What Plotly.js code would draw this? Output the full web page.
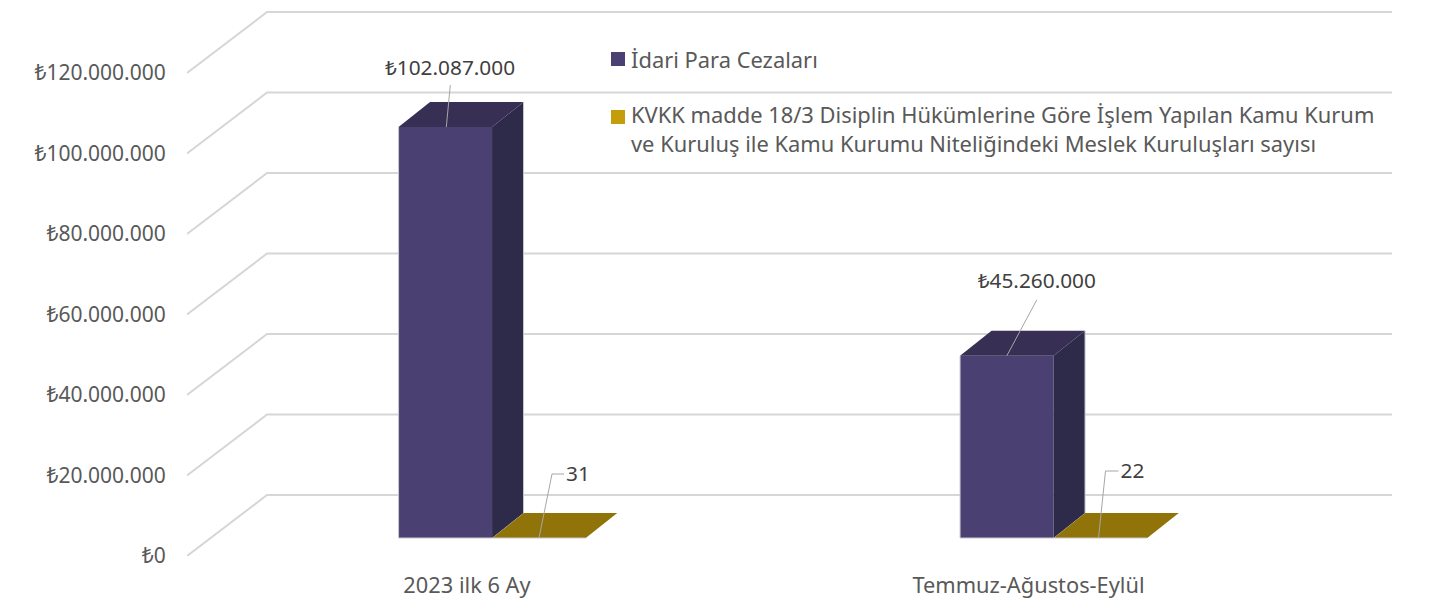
<!DOCTYPE html>
<html><head><meta charset="utf-8">
<script src="https://cdn.plot.ly/plotly-3.0.1.min.js"></script>
<style>html,body{margin:0;padding:0;background:#fff}</style>
</head><body><div id="chart" style="width:1455px;height:600px"></div>
<script>
const categories = ['2023 ilk 6 Ay', 'Temmuz-Ağustos-Eylül'];
const seriesNames = ['İdari Para Cezaları', 'KVKK madde 18/3 Disiplin Hükümlerine Göre İşlem Yapılan Kamu Kurum<br>ve Kuruluş ile Kamu Kurumu Niteliğindeki Meslek Kuruluşları sayısı'];
const fines = [102087000, 45260000];
const counts = [31, 22];
const yTicks = [0, 20000000, 40000000, 60000000, 80000000, 100000000, 120000000];

const lira = v => '₺' + String(v).replace(/\B(?=(\d{3})+$)/g, '.');
const FONT = '"Noto Sans", sans-serif';
// geometry helpers: pixels per axis unit, used only for the oblique 3D projection
const PXX = 561.5, PXY = 80.5 / 20000000, X0 = 467, Y0 = 556, W = 1455, H = 600;
const ux = p => p / PXX;                     // px width -> x units
const uy = p => p / PXY;                     // px height -> value units
const floorV = uy(18);                       // floor of the bars above the front edge
const wall = {dx: ux(80), dv: uy(61)};
const depth = {dx: ux(31.5), dv: uy(25)};
const BW = ux(93.5);
const off1 = ux(445.3 - X0), off2 = ux(539 - X0);
const right = ux(1392 - X0);
const left = ux(187 - X0);

const traces = [];
const poly = (xs, ys, color) => traces.push({type:'scatter', mode:'lines', x:xs, y:ys, fill:'toself', fillcolor:color,
  line:{width:0, color:color}, showlegend:false, hoverinfo:'skip'});
const line = (xs, ys, color, width) => traces.push({type:'scatter', mode:'lines', x:xs, y:ys, line:{color, width},
  showlegend:false, hoverinfo:'skip'});
const label = (x, y, t) => traces.push({type:'scatter', mode:'text', x:[x], y:[y], text:[t], textposition:'middle center',
  textfont:{family:FONT, size:20.8, color:'#404040'}, showlegend:false, hoverinfo:'skip', cliponaxis:false});

// wall gridlines go below the traces
const shapes = yTicks.map(v => ({type:'path', layer:'below', xref:'x', yref:'y',
  path:`M${left},${v}L${left + wall.dx},${v + wall.dv}L${right},${v + wall.dv}`, line:{color:'#d6d6d6', width:2}}));

const styles = [
  {front:'#4a4071', top:'#382f55', side:'#2e2a4a', legend:'#4a4071'},
  {front:'#917409', top:'#917409', side:'#917409', legend:'#c39d0a'}
];
[fines, counts].forEach((vals, s) => {
  const o = s === 0 ? off1 : off2, st = styles[s];
  traces.push({type:'bar', x:vals.map((v, i) => i + o), y:vals, base:vals.map(() => floorV), width:BW,
    name:seriesNames[s], marker:{color:st.front, line:{width:0}}, hoverinfo:'skip', showlegend:false});
  vals.forEach((v, i) => {
    const xl = i + o - BW / 2, xr = i + o + BW / 2, t = floorV + v;
    poly([xr, xr + depth.dx, xr + depth.dx, xr, xr], [floorV, floorV + depth.dv, t + depth.dv, t, floorV], st.side);
    poly([xl, xr, xr + depth.dx, xl + depth.dx, xl], [t, t, t + depth.dv, t + depth.dv, t], st.top);
  });
});
// silhouettes
fines.forEach((v, i) => {
  const xl = i + off1 - BW / 2, xr = i + off1 + BW / 2, t = floorV + v;
  line([xl, xl, xr + BW], [t, floorV, floorV], '#c9c9d2', 1);
  line([xr + depth.dx, xr + depth.dx], [floorV + depth.dv, t + depth.dv], '#c9c9d2', 1);
});
// leader lines and value labels
const fineLeaders = [[ux(1), ux(5), uy(42), ux(4.7), uy(57)], [ux(0), ux(30), uy(56), ux(30), uy(73)]];
fines.forEach((v, i) => {
  const t = floorV + v, x = i + off1, [a, b, h, lx, ly] = fineLeaders[i];
  line([x + a, x + b], [t, t + h], '#a6a6a6', 1);
  label(x + lx, t + ly, lira(v));
});
const countLeaders = [[ux(0), ux(13), ux(25), uy(64)], [ux(-2), ux(5), ux(18), uy(67)]];
counts.forEach((v, i) => {
  const t = floorV + v, x = i + off2, [a, b, c, h] = countLeaders[i];
  line([x + a, x + b, x + c], [t, t + h, t + h], '#a6a6a6', 1);
  label(x + c + ux(14), t + h - uy(2), String(v));
});

// legend: swatch + text, in page-fraction coordinates
const legendRows = [{swatchTop:52, textTop:44}, {swatchTop:110, textTop:98.5}];
const L = 187, R = 60, B = 44, pw = W - L - R, ph = H - B;
const annotations = [];
seriesNames.forEach((n, s) => {
  const r = legendRows[s];
  shapes.push({type:'rect', layer:'above', xref:'paper', yref:'paper', line:{width:0}, fillcolor:styles[s].legend,
    x0:(611 - L) / pw, x1:(625 - L) / pw, y0:(ph - r.swatchTop - 14) / ph, y1:(ph - r.swatchTop) / ph});
  annotations.push({xref:'paper', yref:'paper', x:(630 - L) / pw, y:(ph - r.textTop) / ph, xanchor:'left', yanchor:'top', align:'left',
    showarrow:false, borderpad:0, text:'<span style="font-size:21.9px">' + n + '</span>',
    font:{family:FONT, size:22.3, color:'#595959'}});
});

const layout = {
  width:W, height:H, margin:{l:L, r:R, t:0, b:B}, paper_bgcolor:'#fff', plot_bgcolor:'#fff',
  barmode:'overlay', font:{family:FONT, color:'#595959', size:18}, shapes, annotations, showlegend:false,
  xaxis:{range:[left, ux(1395 - X0)], tickmode:'array', tickvals:categories.map((c, i) => i), ticktext:categories,
    showgrid:false, zeroline:false, showline:false, ticks:'outside', ticklen:10, tickcolor:'rgba(0,0,0,0)',
    tickfont:{family:FONT, size:21.8, color:'#595959'}},
  yaxis:{range:[0, Y0 / PXY], tickmode:'array', tickvals:yTicks, ticktext:yTicks.map(lira),
    showgrid:false, zeroline:false, showline:false, ticks:'outside', ticklen:16, tickcolor:'rgba(0,0,0,0)',
    tickfont:{family:FONT, size:21, color:'#595959'}}
};
Plotly.newPlot('chart', traces, layout, {displayModeBar:false, staticPlot:true});
</script></body></html>
